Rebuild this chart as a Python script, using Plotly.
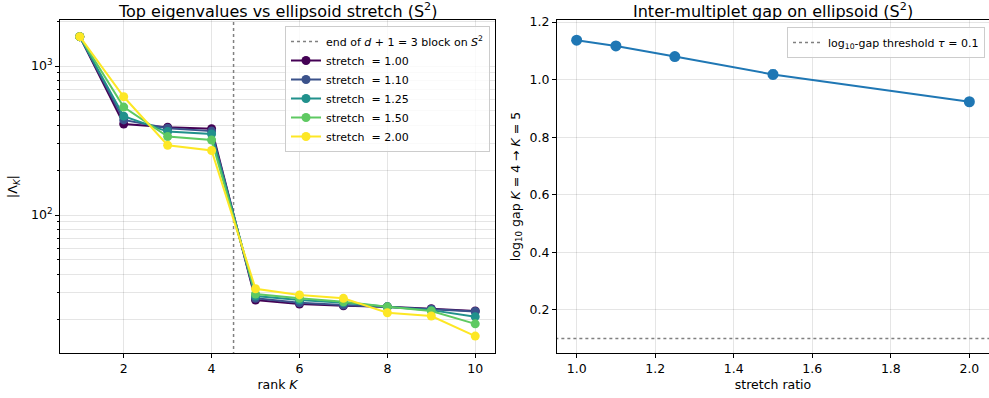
import plotly.graph_objects as go

ranks = [1, 2, 3, 4, 5, 6, 7, 8, 9, 10]
stretch_labels = ["1.00", "1.10", "1.25", "1.50", "2.00"]
eig_100 = [1575, 408, 388, 380, 26.9, 25.3, 24.6, 24.2, 23.5, 22.7]
eig_110 = [1575, 435, 382, 366, 27.6, 25.8, 24.9, 24.2, 23.3, 22.5]
eig_125 = [1575, 461, 363, 350, 28.6, 26.9, 25.8, 24.2, 23.0, 20.8]
eig_150 = [1575, 530, 336, 319, 29.5, 27.6, 26.2, 24.2, 22.7, 18.6]
eig_200 = [1575, 622, 294, 271, 32.0, 29.1, 27.6, 22.1, 21.0, 15.4]
colors = ["#440154", "#3b528b", "#21918c", "#5ec962", "#fde725"]

stretch_ratio = [1.0, 1.1, 1.25, 1.5, 2.0]
log_gap = [1.137, 1.117, 1.080, 1.018, 0.923]
log_gap_err = [0.011, 0.012, 0.008, 0.014, 0.007]
block_end = 4.5
threshold = 0.1

FONT = "DejaVu Sans"
W, H = 989, 398
ML, MR, MT, MB = 60, 0, 20, 45
PW = W - ML - MR
PH = H - MT - MB
def px_x(p):
    return (p - ML) / PW
def px_y(p):
    return 1 - (p - MT) / PH

fig = go.Figure()

fig.add_trace(go.Scatter(x=[block_end, block_end], y=[5, 5000], mode="lines",
                         line=dict(color="#808080", width=1.5, dash="dot"),
                         name="end of <i>d</i> + 1 = 3 block on <i>S</i><sup>2</sup>",
                         xaxis="x", yaxis="y", legend="legend"))
series = [eig_100, eig_110, eig_125, eig_150, eig_200]
for lab, vals, c in zip(stretch_labels, series, colors):
    fig.add_trace(go.Scatter(x=ranks, y=vals, mode="lines+markers",
                             line=dict(color=c, width=2),
                             marker=dict(color=c, size=9),
                             name="stretch \u00a0= " + lab,
                             xaxis="x", yaxis="y", legend="legend"))

fig.add_trace(go.Scatter(x=[0.9, 2.1], y=[threshold, threshold], mode="lines",
                         line=dict(color="#808080", width=1.5, dash="dot"),
                         name="log<sub>10</sub>-gap threshold <i>τ</i> = 0.1",
                         xaxis="x2", yaxis="y2", legend="legend2"))
fig.add_trace(go.Scatter(x=stretch_ratio, y=log_gap, mode="lines+markers",
                         line=dict(color="#1f77b4", width=2),
                         marker=dict(color="#1f77b4", size=11),
                         error_y=dict(type="data", array=log_gap_err, color="#1f77b4",
                                      thickness=1.5, width=3),
                         showlegend=False, xaxis="x2", yaxis="y2"))

grid = "rgba(0,0,0,0.1)"
TICK = 12.5
axis_common = dict(showline=True, linecolor="black", linewidth=1, mirror=True,
                   ticks="outside", ticklen=4, tickcolor="black",
                   showgrid=True, gridcolor=grid, gridwidth=1, zeroline=False,
                   tickfont=dict(family=FONT, size=TICK, color="black"))

minor_vals = [v * m for m in (10, 100, 1000) for v in range(2, 10) if v * m < 2100]

fig.update_layout(
    width=W, height=H,
    margin=dict(l=ML, r=MR, t=MT, b=MB),
    paper_bgcolor="white", plot_bgcolor="white",
    font=dict(family=FONT, size=TICK, color="black"),
    xaxis=dict(domain=[0, px_x(495)], range=[0.55, 10.45],
               tickvals=[2, 4, 6, 8, 10], anchor="y",
               title=dict(text="rank <i>K</i>", font=dict(family=FONT, size=TICK), standoff=5),
               **axis_common),
    yaxis=dict(domain=[0, 1], type="log", range=[1.074, 3.309], anchor="x",
               tickvals=[100, 1000], ticktext=["10<sup>2</sup>", "10<sup>3</sup>"],
               minor=dict(tickvals=minor_vals, ticks="outside", ticklen=2,
                          tickcolor="black", showgrid=True, gridcolor=grid),
               title=dict(text="|Λ<sub><i>K</i></sub>|", font=dict(family=FONT, size=TICK), standoff=10),
               **axis_common),
    xaxis2=dict(domain=[px_x(557), 1], range=[0.95, 2.05], anchor="y2",
                tickvals=[1.0, 1.2, 1.4, 1.6, 1.8, 2.0],
                ticktext=["1.0", "1.2", "1.4", "1.6", "1.8", "2.0"],
                title=dict(text="stretch ratio", font=dict(family=FONT, size=TICK), standoff=5),
                **axis_common),
    yaxis2=dict(domain=[0, 1], range=[0.05, 1.207], anchor="x2",
                tickvals=[0.2, 0.4, 0.6, 0.8, 1.0, 1.2],
                ticktext=["0.2", "0.4", "0.6", "0.8", "1.0", "1.2"],
                title=dict(text="log<sub>10</sub> gap <i>K</i> = 4 → <i>K</i> = 5",
                           font=dict(family=FONT, size=TICK), standoff=6),
                **axis_common),
    legend=dict(x=px_x(490), y=px_y(26), xanchor="right", yanchor="top",
                bgcolor="rgba(255,255,255,0.8)", bordercolor="#cccccc", borderwidth=1,
                font=dict(family=FONT, size=11), tracegroupgap=0, itemwidth=30),
    legend2=dict(x=px_x(985), y=px_y(27), xanchor="right", yanchor="top",
                 bgcolor="rgba(255,255,255,0.8)", bordercolor="#cccccc", borderwidth=1,
                 font=dict(family=FONT, size=11), itemwidth=30),
    annotations=[
        dict(text="Top eigenvalues vs ellipsoid stretch (S<sup>2</sup>)", x=(px_x(60) + px_x(495)) / 2,
             y=px_y(10), xref="paper", yref="paper", xanchor="center", yanchor="middle",
             showarrow=False, font=dict(family=FONT, size=16)),
        dict(text="Inter-multiplet gap on ellipsoid (S<sup>2</sup>)", x=(px_x(557) + px_x(989)) / 2,
             y=px_y(10), xref="paper", yref="paper", xanchor="center", yanchor="middle",
             showarrow=False, font=dict(family=FONT, size=16)),
    ],
)

fig.write_html("out.html")
